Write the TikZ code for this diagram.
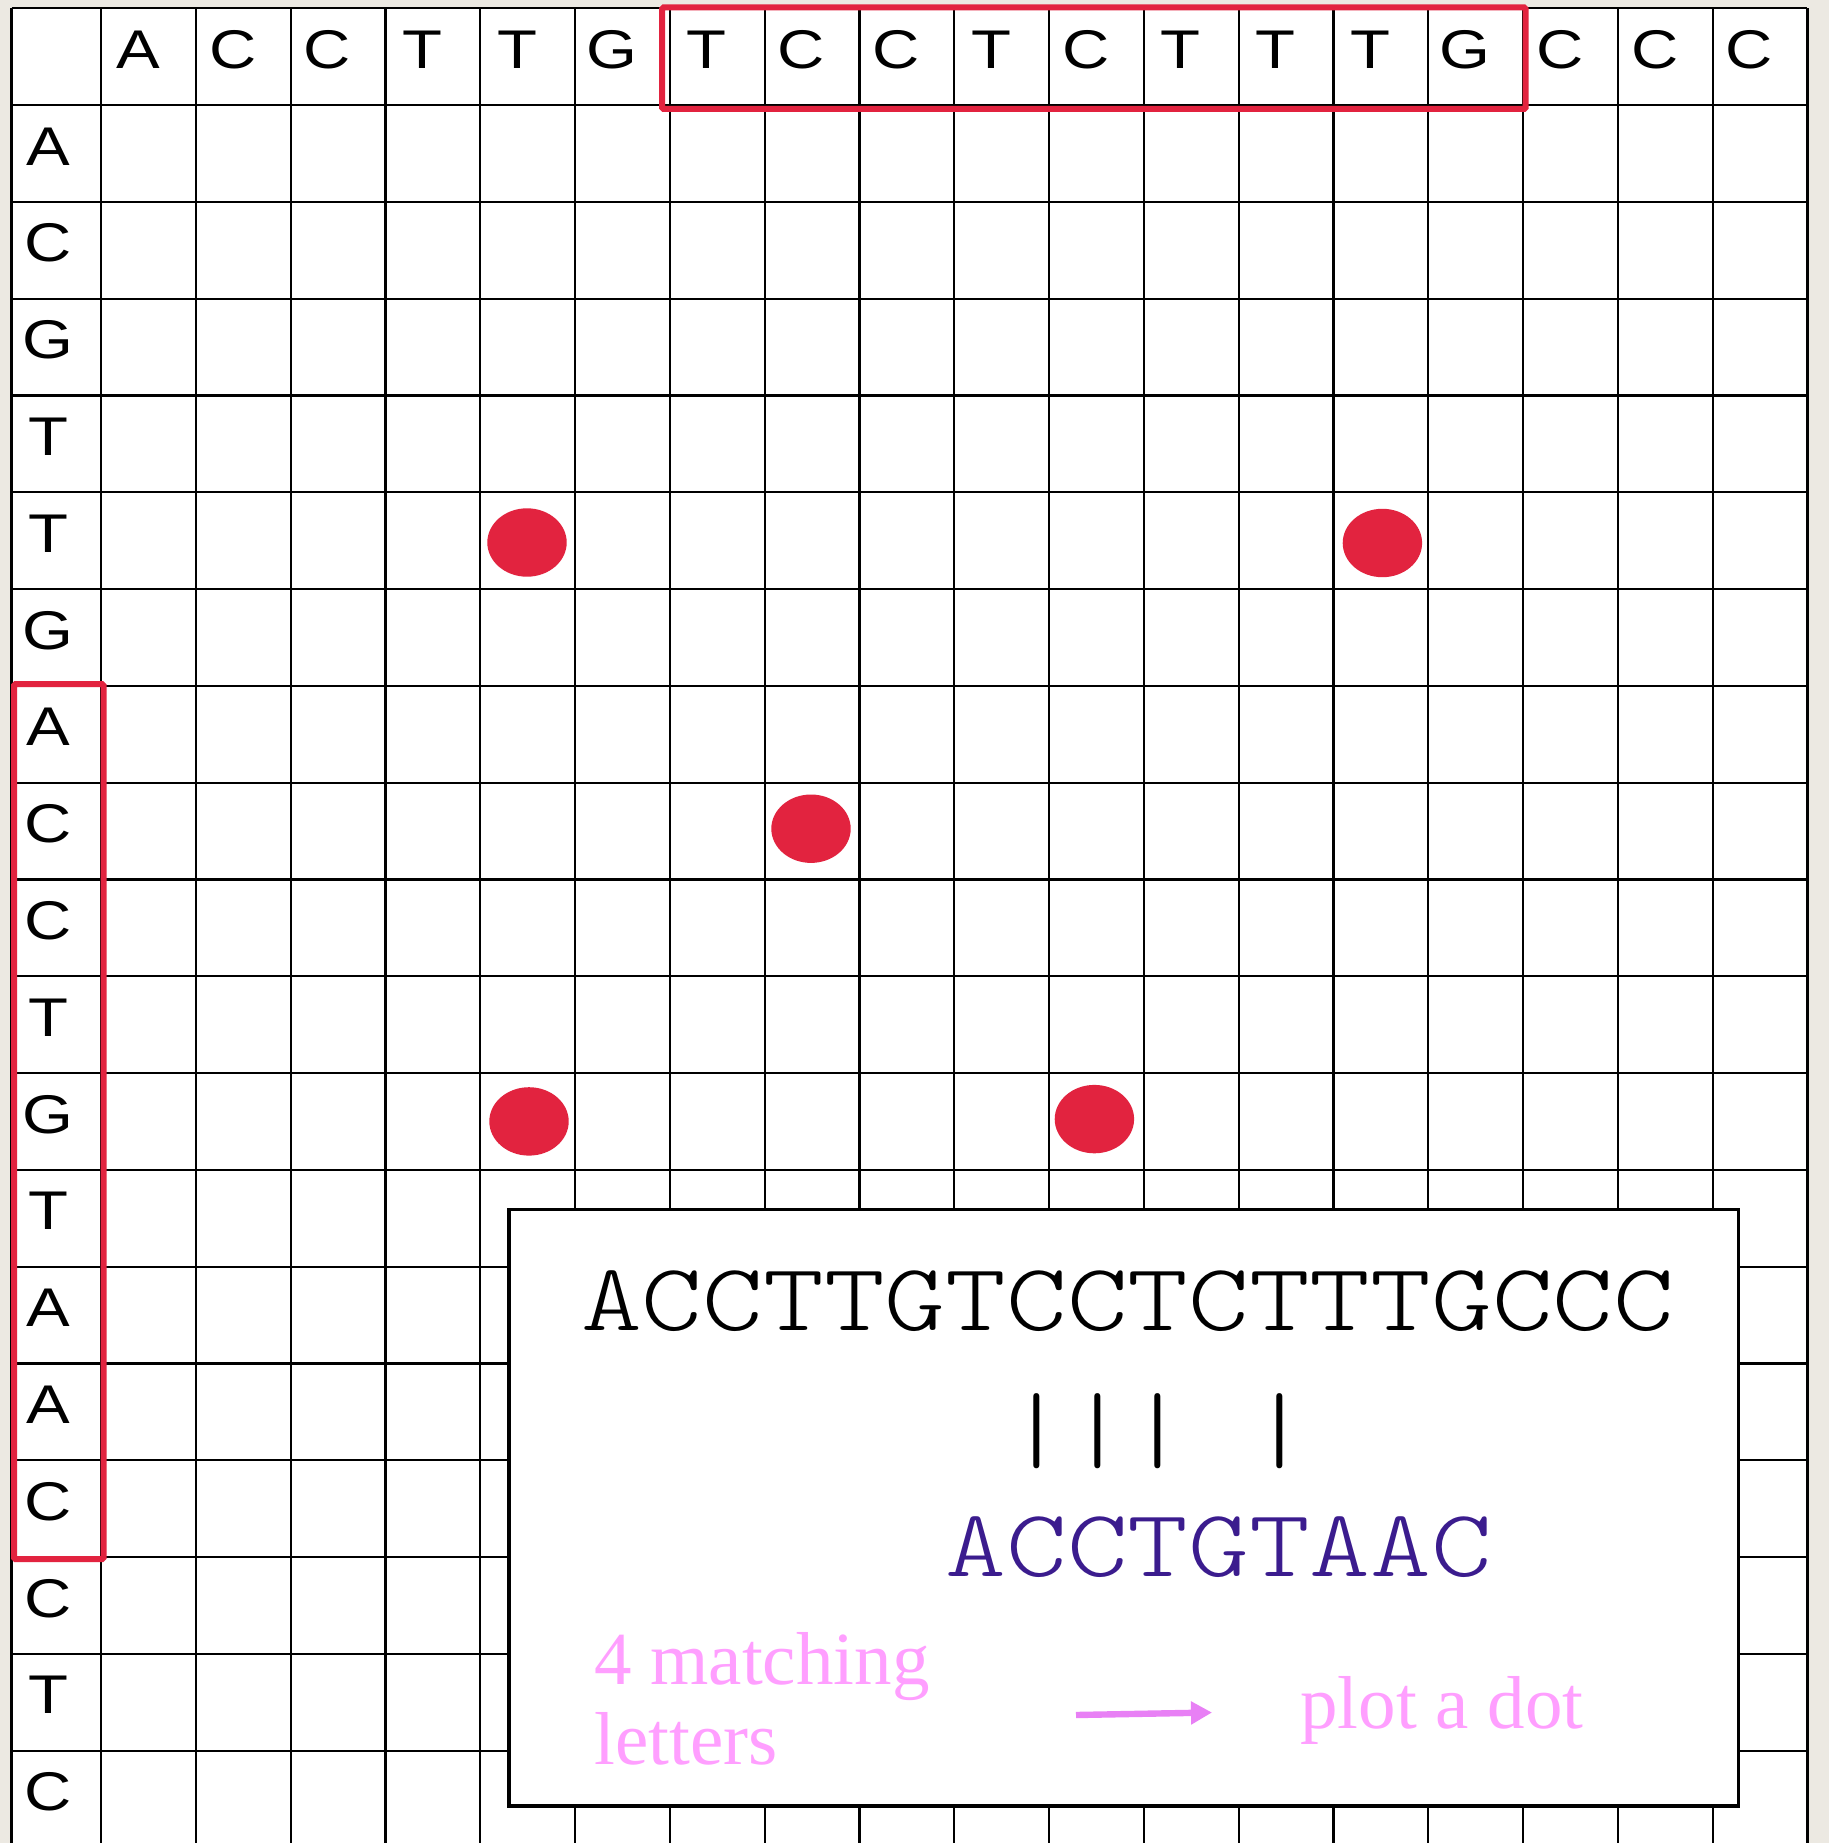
\documentclass[tikz,border=0pt]{standalone}
\usepackage{fontspec}
\setmainfont{Liberation Serif}
\newfontfamily\seqfont[FakeStretch=1.2]{Liberation Sans}
\newfontfamily\alnfont[Extension=.otf,FakeStretch=1.205]{lmmonolt10-regular}
\usetikzlibrary{arrows.meta}
\definecolor{bgbeige}{HTML}{ECE9E2}
\definecolor{hired}{HTML}{E2233F}
\definecolor{seqpurple}{HTML}{3B1C8E}
\definecolor{notepink}{HTML}{FF9FFF}
\definecolor{arrowpink}{HTML}{E880F5}
\tikzset{
  gridline/.style={line width=2.2pt, black},
  seqletter/.style={inner sep=0pt, anchor=base, font=\seqfont\fontsize{54.5}{60}\selectfont},
  hibox/.style={draw=hired, line width=6pt, rounded corners=1.5pt},
  matchdot/.style={fill=hired},
  alnline/.style={inner sep=0pt, anchor=base west, font=\alnfont\fontsize{96}{104}\selectfont},
  notetext/.style={inner sep=0pt, text=notepink, font=\fontsize{75}{80}\selectfont},
  insetbox/.style={draw=black, fill=white, line width=3.3pt}
}
\begin{document}
\begin{tikzpicture}[x=1pt,y=-1pt]
\useasboundingbox (0,0) rectangle (1829,1843);
\fill[bgbeige] (0,0) rectangle (1829,1843);
\begin{scope}
\clip (0,0) rectangle (1829,1843);
\fill[white] (11.5,8.3) rectangle (1807.4,1850);
% vertical lines
\draw[gridline] (11.5,8.3) -- (11.5,1850);
\foreach \j in {0,...,18} {
  \draw[gridline] ({101+\j*94.8},8.3) -- ({101+\j*94.8},1850);
}
% horizontal lines
\foreach \k in {0,...,18} {
  \draw[gridline] (11.5,{8.3+\k*96.8}) -- (1807.4,{8.3+\k*96.8});
}
\end{scope}
% column header letters
\foreach \l [count=\j] in {A,C,C,T,T,G,T,C,C,T,C,T,T,T,G,C,C,C} {
  \node[seqletter] (col\j) at ({101+(\j-0.5)*94.8-10.5},68.3) {\l};
}
% row header letters
\foreach \l [count=\k] in {A,C,G,T,T,G,A,C,C,T,G,T,A,A,C,C,T,C} {
  \node[seqletter] (row\k) at (48,{8.3+(\k+0.5)*96.8+11.6}) {\l};
}
% highlight boxes
\draw[hibox] (662,7.5) rectangle (1525.5,109);
\draw[hibox] (14,684) rectangle (103.5,1559);
% dots
\fill[matchdot] (527,542.5) ellipse [x radius=39.7, y radius=34.2];
\fill[matchdot] (1382.4,543) ellipse [x radius=39.7, y radius=34.2];
\fill[matchdot] (811,828.7) ellipse [x radius=39.7, y radius=34.2];
\fill[matchdot] (529,1121.4) ellipse [x radius=39.7, y radius=34.2];
\fill[matchdot] (1094.4,1119.1) ellipse [x radius=39.7, y radius=34.2];
% inset box
\draw[insetbox] (509,1209.6) rectangle (1738.5,1806);
\node[alnline] (seqa) at (581,1330) {ACCTTGTCCTCTTTGCCC};
\node[alnline] (bars) at (581,1460) {\phantom{ACCTTGT}|||\phantom{T}|};
\node[alnline, text=seqpurple] (seqb) at (581,1576) {\phantom{ACCTTG}ACCTGTAAC};
\node[notetext, anchor=north west, align=left] (matchnote) at (594,1632) {4 matching\\letters};
\node[notetext, anchor=base west] (plotnote) at (1300,1728) {plot a dot};
\coordinate (arrowstart) at (1076,1715);
\coordinate (arrowend) at (1212,1712.5);
\draw[arrowpink, line width=6.4pt, -{Triangle[length=21pt,width=22pt]}] (arrowstart) -- (arrowend);
\end{tikzpicture}
\end{document}
